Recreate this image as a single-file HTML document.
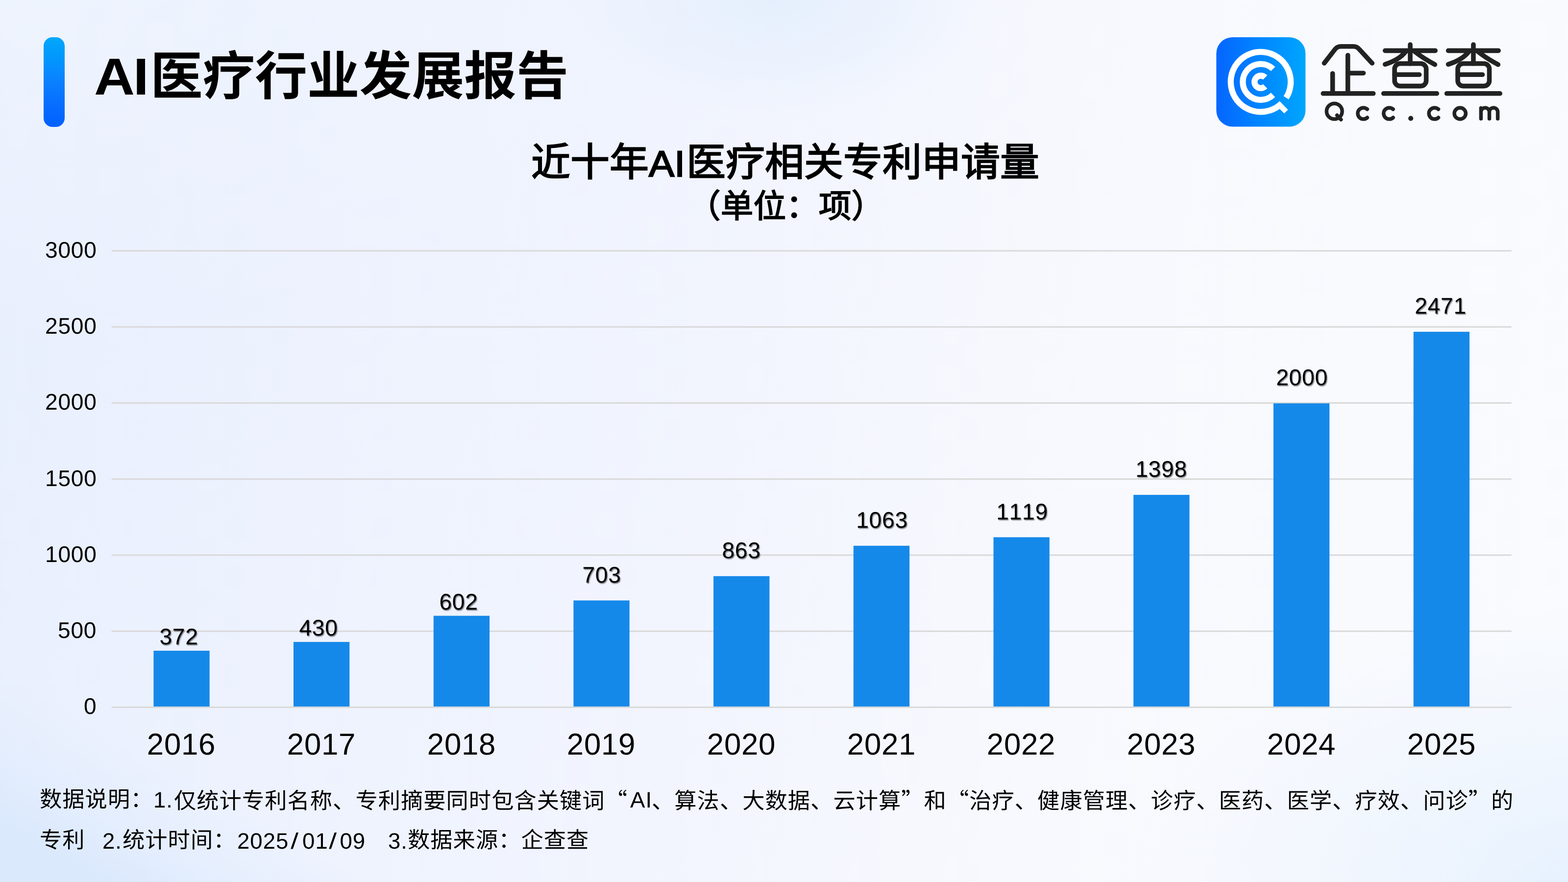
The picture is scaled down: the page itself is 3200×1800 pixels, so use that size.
<!DOCTYPE html>
<html lang="zh-CN">
<head>
<meta charset="utf-8">
<title>AI医疗行业发展报告 - 近十年AI医疗相关专利申请量</title>
<style>
html,body{margin:0;padding:0;}
body{width:3200px;height:1800px;overflow:hidden;font-family:"Liberation Sans","Noto Sans CJK SC",sans-serif;color:#000;}
#page{position:relative;width:3200px;height:1800px;overflow:hidden;
 background:
  linear-gradient(30deg, rgba(219,233,253,1) 0%, rgba(219,233,253,1) 3.5%, rgba(222,235,253,0.55) 7%, rgba(228,239,253,0) 12%),
  radial-gradient(ellipse 900px 560px at 3200px 1800px, rgba(230,241,254,0.95) 0%, rgba(234,243,254,0.5) 50%, rgba(242,247,254,0) 100%),
  radial-gradient(ellipse 440px 240px at 1580px 0px, rgba(226,238,253,0.85) 0%, rgba(230,240,253,0.5) 55%, rgba(238,244,254,0) 100%),
  radial-gradient(ellipse 1300px 700px at 0px 0px, rgba(240,245,254,0.75) 0%, rgba(240,245,254,0) 100%),
  linear-gradient(100deg, #e8effd 0%, #edf2fe 22%, #f2f5fe 46%, #f8f9fe 68%, #f9fbfe 100%);}
svg.layer{position:absolute;left:0;top:0;width:3200px;height:1800px;overflow:visible;}
.t{position:absolute;white-space:nowrap;color:#000;will-change:transform;text-rendering:geometricPrecision;font-kerning:none;}
.c{color:#000;font-family:"Liberation Sans","Noto Sans CJK SC",sans-serif;}
.f{letter-spacing:1px;}
.q{font-family:"Noto Sans CJK SC",sans-serif;}
.sl{display:inline-block;margin:0 8.5px 0 5.5px;transform:scaleX(1.25);}
.s2{margin:0 6.5px 0 3.5px;}
.dl{text-shadow:1.5px 1.5px 2px rgba(0,0,0,0.5);}
#accent{position:absolute;left:88.8px;top:75.6px;width:43.3px;height:183.3px;border-radius:18px;
 background:linear-gradient(180deg,#00a7fb 0%,#0396fd 25%,#0a80ff 50%,#066eff 75%,#0060ff 100%);}
</style>
</head>
<body>
<div id="page">
<div id="accent"></div>

<svg class="layer" viewBox="0 0 3200 1800" role="img" aria-label="近十年AI医疗相关专利申请量 柱状图">
<g fill="#d9d9d9"><rect x="227.7" y="1286.7" width="2857" height="3"/><rect x="227.7" y="1131.4" width="2857" height="3"/><rect x="227.7" y="976.2" width="2857" height="3"/><rect x="227.7" y="820.9" width="2857" height="3"/><rect x="227.7" y="665.7" width="2857" height="3"/><rect x="227.7" y="510.4" width="2857" height="3"/></g>
<g fill="#1589ea"><rect x="313.4" y="1328" width="114.3" height="113.9"/><rect x="599" y="1310.1" width="114.3" height="131.8"/><rect x="884.8" y="1256.7" width="114.3" height="185.2"/><rect x="1170.4" y="1225.4" width="114.3" height="216.5"/><rect x="1456.1" y="1175.8" width="114.3" height="266.1"/><rect x="1741.8" y="1113.8" width="114.3" height="328.1"/><rect x="2027.5" y="1096.4" width="114.3" height="345.5"/><rect x="2313.2" y="1009.9" width="114.3" height="432"/><rect x="2598.9" y="823.2" width="114.3" height="618.7"/><rect x="2884.7" y="677.1" width="114.3" height="764.8"/></g>
<g fill="#d9d9d9"><rect x="227.7" y="1441.9" width="2857" height="3"/></g>
</svg>

<svg class="layer" viewBox="0 0 3200 1800" role="img" aria-label="企查查 Qcc.com">
<defs>
<linearGradient id="lg" x1="0" y1="0" x2="1" y2="0"><stop offset="0" stop-color="#0566ff"/><stop offset="0.5" stop-color="#0086ff"/><stop offset="1" stop-color="#00a6fd"/></linearGradient>
</defs>
<rect x="2482.3" y="76" width="182" height="182.5" rx="33" fill="url(#lg)"/>
<g fill="none" stroke="#fff" stroke-width="12.3">
<path d="M2615.4,211.2A61.2,61.2 0 1 1 2624.8,199.6"/>
<path d="M2598.1,193.75A36.6,36.6 0 1 1 2598.1,140.65"/>
<path d="M2581.9,176.2A12.7,12.7 0 1 1 2581.9,158.2"/>
</g>
<path d="M2611.6,206.6L2628.62,223.91L2620.77,231.62L2603.7,214.3Z" fill="#fff"/>
<g fill="none" stroke="#222" stroke-width="9.6" stroke-linecap="round" stroke-linejoin="round">
<path d="M2702.5,129L2724.5,100.6Q2729,94.8 2736.5,94.8L2762,94.8Q2769.5,94.8 2774,100.6L2800.3,129M2750.7,112.7L2750.7,190.8M2750.7,149.2L2782.5,149.2M2719.6,150L2719.6,190.8M2700.2,190.8L2802.7,190.8"/>
<g id="cha">
<path d="M2826.7,103.4L2929.2,103.4M2878,91L2878,129.8M2869,105Q2856,122 2826.7,131.3M2887,105Q2903,118 2928.4,131.8M2846.1,152.3L2896.6,152.3M2823.6,190.8L2932.3,190.8"/>
<rect x="2846.1" y="129.8" width="64.5" height="45.8" rx="11"/>
</g>
<use href="#cha" x="128.9"/>
</g>
<g fill="none" stroke="#222" stroke-width="7.5" stroke-linecap="round" stroke-linejoin="round">
<circle cx="2723.2" cy="227.2" r="15.9"/><path d="M2728.6,235.2L2736.8,244.1"/>
<path id="lc" d="M2790.3,222.9A11.6,11.6 0 1 0 2790.3,240.1"/>
<use href="#lc" x="52.8"/><use href="#lc" x="145.2"/>
<circle cx="2979.7" cy="231.5" r="11.6"/>
<path d="M3022.4,220.6L3022.4,242.3M3022.4,228.5A8.55,8.55 0 0 1 3039.5,228.5L3039.5,242.3M3039.5,228.5A8.55,8.55 0 0 1 3056.6,228.5L3056.6,242.3"/>
</g>
<circle cx="2879.1" cy="241.6" r="5.1" fill="#222"/>
</svg>

<div class="t ti" style="top:104.3px;font-size:106px;line-height:106px;left:192px;transform-origin:0 0;transform:scaleX(1.085);font-weight:bold;letter-spacing:-3.1px;">AI</div>
<div class="t c" style="left:306.6px;top:102.5px;font-size:106.7px;line-height:106.7px;font-weight:bold;">医疗行业发展报告</div>
<div class="t c" style="left:1084.2px;top:292px;font-size:80px;line-height:80px;-webkit-text-stroke:2.3px #000;">近十年</div>
<div class="t ct" style="top:297.6px;font-size:74.5px;line-height:74.5px;left:1324.2px;transform-origin:0 0;transform:scaleX(1.05);-webkit-text-stroke:2.4px #000;">AI</div>
<div class="t c" style="left:1401.2px;top:292px;font-size:80px;line-height:80px;-webkit-text-stroke:2.3px #000;">医疗相关专利申请量</div>
<div class="t c" style="left:1403.5px;top:389.3px;font-size:66.7px;line-height:66.7px;-webkit-text-stroke:1.9px #000;">（单位：项）</div>
<div class="t yl" style="top:1418.3px;font-size:46.2px;line-height:46.2px;right:3002.7px;letter-spacing:0.7px;">0</div>
<div class="t yl" style="top:1263px;font-size:46.2px;line-height:46.2px;right:3002.7px;letter-spacing:0.7px;">500</div>
<div class="t yl" style="top:1107.8px;font-size:46.2px;line-height:46.2px;right:3002.7px;letter-spacing:0.7px;">1000</div>
<div class="t yl" style="top:952.5px;font-size:46.2px;line-height:46.2px;right:3002.7px;letter-spacing:0.7px;">1500</div>
<div class="t yl" style="top:797.3px;font-size:46.2px;line-height:46.2px;right:3002.7px;letter-spacing:0.7px;">2000</div>
<div class="t yl" style="top:642px;font-size:46.2px;line-height:46.2px;right:3002.7px;letter-spacing:0.7px;">2500</div>
<div class="t yl" style="top:486.8px;font-size:46.2px;line-height:46.2px;right:3002.7px;letter-spacing:0.7px;">3000</div>
<div class="t dl" style="top:1276.3px;font-size:46.2px;line-height:46.2px;left:364.5px;transform:translateX(-50%);letter-spacing:0.7px;">372</div>
<div class="t dl" style="top:1258.3px;font-size:46.2px;line-height:46.2px;left:650.2px;transform:translateX(-50%);letter-spacing:0.7px;">430</div>
<div class="t dl" style="top:1204.9px;font-size:46.2px;line-height:46.2px;left:935.9px;transform:translateX(-50%);letter-spacing:0.7px;">602</div>
<div class="t dl" style="top:1149.7px;font-size:46.2px;line-height:46.2px;left:1227.6px;transform:translateX(-50%);letter-spacing:0.7px;">703</div>
<div class="t dl" style="top:1100px;font-size:46.2px;line-height:46.2px;left:1513.3px;transform:translateX(-50%);letter-spacing:0.7px;">863</div>
<div class="t dl" style="top:1037.9px;font-size:46.2px;line-height:46.2px;left:1800px;transform:translateX(-50%);letter-spacing:0.7px;">1063</div>
<div class="t dl" style="top:1020.5px;font-size:46.2px;line-height:46.2px;left:2086.2px;transform:translateX(-50%);letter-spacing:0.7px;">1119</div>
<div class="t dl" style="top:933.9px;font-size:46.2px;line-height:46.2px;left:2370.4px;transform:translateX(-50%);letter-spacing:0.7px;">1398</div>
<div class="t dl" style="top:747px;font-size:46.2px;line-height:46.2px;left:2656.6px;transform:translateX(-50%);letter-spacing:0.7px;">2000</div>
<div class="t dl" style="top:600.7px;font-size:46.2px;line-height:46.2px;left:2940.3px;transform:translateX(-50%);letter-spacing:0.7px;">2471</div>
<div class="t xl" style="top:1488.7px;font-size:61.8px;line-height:61.8px;left:370.2px;transform:translateX(-50%);letter-spacing:0.7px;">2016</div>
<div class="t xl" style="top:1488.7px;font-size:61.8px;line-height:61.8px;left:655.9px;transform:translateX(-50%);letter-spacing:0.7px;">2017</div>
<div class="t xl" style="top:1488.7px;font-size:61.8px;line-height:61.8px;left:941.6px;transform:translateX(-50%);letter-spacing:0.7px;">2018</div>
<div class="t xl" style="top:1488.7px;font-size:61.8px;line-height:61.8px;left:1227.3px;transform:translateX(-50%);letter-spacing:0.7px;">2019</div>
<div class="t xl" style="top:1488.7px;font-size:61.8px;line-height:61.8px;left:1513px;transform:translateX(-50%);letter-spacing:0.7px;">2020</div>
<div class="t xl" style="top:1488.7px;font-size:61.8px;line-height:61.8px;left:1798.7px;transform:translateX(-50%);letter-spacing:0.7px;">2021</div>
<div class="t xl" style="top:1488.7px;font-size:61.8px;line-height:61.8px;left:2084.4px;transform:translateX(-50%);letter-spacing:0.7px;">2022</div>
<div class="t xl" style="top:1488.7px;font-size:61.8px;line-height:61.8px;left:2370.1px;transform:translateX(-50%);letter-spacing:0.7px;">2023</div>
<div class="t xl" style="top:1488.7px;font-size:61.8px;line-height:61.8px;left:2655.8px;transform:translateX(-50%);letter-spacing:0.7px;">2024</div>
<div class="t xl" style="top:1488.7px;font-size:61.8px;line-height:61.8px;left:2941.5px;transform:translateX(-50%);letter-spacing:0.7px;">2025</div>
<div class="t c f" style="left:80.5px;top:1608.9px;font-size:45.3px;line-height:45.3px;">数据说明：</div>
<div class="t fn" style="top:1610.4px;font-size:45.6px;line-height:45.6px;left:312.5px;letter-spacing:1px;">1.</div>
<div class="t c f" style="left:355.4px;top:1608.9px;font-size:45.3px;line-height:45.3px;">仅统计专利名称、专利摘要同时包含关键词<span class="q">“</span></div>
<div class="t fn" style="top:1610.4px;font-size:45.6px;line-height:45.6px;left:1286px;letter-spacing:1px;">AI</div>
<div class="t c f" style="left:1329.5px;top:1608.9px;font-size:45.3px;line-height:45.3px;">、算法、大数据、云计算<span class="q">”</span>和<span class="q">“</span>治疗、健康管理、诊疗、医药、医学、疗效、问诊<span class="q">”</span>的</div>
<div class="t c f" style="left:80.7px;top:1692.4px;font-size:45.3px;line-height:45.3px;">专利</div>
<div class="t fn" style="top:1693.9px;font-size:45.6px;line-height:45.6px;left:209px;letter-spacing:1px;">2.</div>
<div class="t c f" style="left:249.9px;top:1692.4px;font-size:45.3px;line-height:45.3px;">统计时间：</div>
<div class="t fn" style="top:1693.9px;font-size:45.6px;line-height:45.6px;left:483.5px;letter-spacing:1px;">2025<span class="sl">/</span>01<span class="sl s2">/</span>09</div>
<div class="t fn" style="top:1693.9px;font-size:45.6px;line-height:45.6px;left:792px;letter-spacing:1px;">3.</div>
<div class="t c f" style="left:832.2px;top:1692.4px;font-size:45.3px;line-height:45.3px;">数据来源：企查查</div>
</div>
</body>
</html>
